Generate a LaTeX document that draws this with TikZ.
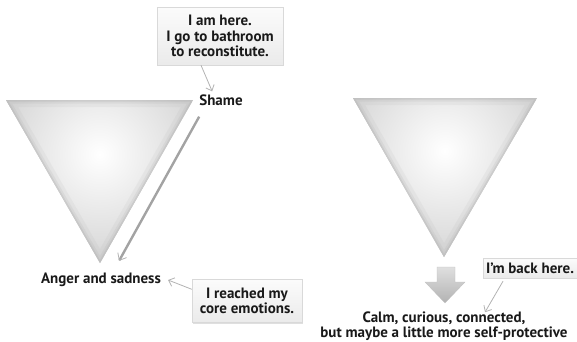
\documentclass[tikz,border=0pt]{standalone}
\usepackage{fontspec}
\setmainfont{PT Sans}
\usetikzlibrary{arrows.meta,shadows}
\tikzset{
  lbl/.style={font=\bfseries\fontsize{15}{15.5}\selectfont, inner sep=0pt, align=center, text=black!90},
  note/.style={lbl, top color=gray!3, bottom color=gray!16, draw=gray!30,
    drop shadow={opacity=0.25, shadow xshift=1pt, shadow yshift=-1pt}},
  pointer/.style={gray!60, line width=0.8pt, -{Straight Barb[length=5pt,width=9pt]}},
}
\begin{document}
\begin{tikzpicture}[x=1pt,y=-1pt]
\useasboundingbox (0,0) rectangle (577,341);
% the two triangles
\foreach \xl/\xr/\xt/\yt/\yb in {6/193/100/100/263, 353/537/444/98/257}{
  \begin{scope}
    \clip (\xl,\yt) -- (\xr,\yt) -- (\xt,\yb) -- cycle;
    \fill[gray!45] (\xl,\yt) rectangle (\xr,\yb);
    \shade[inner color=white, outer color=gray!35] ({(\xl+\xr+\xt)/3},{(2*\yt+\yb)/3}) circle (115);
    \draw[gray!70, line width=14pt, opacity=.1] (\xl,\yt) -- (\xr,\yt) -- (\xt,\yb) -- cycle;
    \draw[gray!70, line width=7pt, opacity=.15] (\xl,\yt) -- (\xr,\yt) -- (\xt,\yb) -- cycle;
    \draw[gray!70, line width=3pt, opacity=.25] (\xl,\yt) -- (\xr,\yt) -- (\xt,\yb) -- cycle;
  \end{scope}
}
% left side
\node[note, minimum width=126, minimum height=58] (here) at (220,36) {I am here.\\I go to bathroom\\to reconstitute.};
\node[lbl] (shame) at (221,100) {Shame};
\node[lbl] (anger) at (101,280) {Anger and sadness};
\node[note, minimum width=110, minimum height=43] (core) at (247,301) {I reached my\\core emotions.};
\draw[pointer] ([xshift=-19pt]here.south) -- ([xshift=13pt,yshift=3pt]shame.north west);
\draw[gray!72, line width=2.4pt, -{Straight Barb[length=6pt,width=10pt,line width=0.8pt,color=gray!60]}]
  ([yshift=-11pt]shame.south west) -- ([xshift=18pt,yshift=12pt]anger.north);
\draw[pointer] ([yshift=-10pt]core.north west) -- ([xshift=7pt]anger.east);
% right side
\shade[top color=gray!25, bottom color=gray!60, draw=gray!50, line width=0.3pt]
  (437,267) -- (455,267) -- (455,282) -- (465,282) -- (445,303) -- (425,282) -- (437,282) -- cycle;
\node[note, minimum width=94, minimum height=20] (back) at (530,268) {I'm back here.};
\node[lbl] (calm) at (444,326) {Calm, curious, connected,\\but maybe a little more self-protective};
\draw[pointer] ([xshift=-27pt,yshift=-3pt]back.south) -- ([xshift=41pt,yshift=-1pt]calm.north);
\end{tikzpicture}
\end{document}
